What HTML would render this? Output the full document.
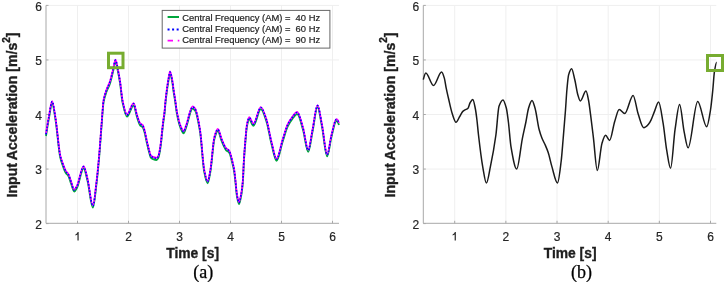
<!DOCTYPE html>
<html><head><meta charset="utf-8"><style>
html,body{margin:0;padding:0;background:#fff;}
svg{display:block;will-change:transform;filter:blur(0.3px);}
.grid{stroke:#efefef;stroke-width:1;}
.ax{stroke:#a8a8a8;stroke-width:1;fill:none;}
.tk{font-family:"Liberation Sans", sans-serif;font-size:12px;fill:#262626;stroke:#262626;stroke-width:0.2px;}
.lb{font-family:"Liberation Sans", sans-serif;font-size:13.85px;font-weight:bold;fill:#1e1e1e;stroke:#1e1e1e;stroke-width:0.35px;}
.lg{font-family:"Liberation Sans", sans-serif;font-size:9.4px;fill:#1e1e1e;stroke:#1e1e1e;stroke-width:0.2px;}
.cap{font-family:"Liberation Serif", serif;font-size:18px;fill:#000;stroke:#000;stroke-width:0.25px;}
</style></head><body>
<svg width="725" height="282" viewBox="0 0 725 282">
<rect width="725" height="282" fill="#fff"/>
<line x1="77.50" y1="5.4" x2="77.50" y2="223.3" class="grid"/>
<line x1="128.50" y1="5.4" x2="128.50" y2="223.3" class="grid"/>
<line x1="179.50" y1="5.4" x2="179.50" y2="223.3" class="grid"/>
<line x1="230.50" y1="5.4" x2="230.50" y2="223.3" class="grid"/>
<line x1="281.50" y1="5.4" x2="281.50" y2="223.3" class="grid"/>
<line x1="332.50" y1="5.4" x2="332.50" y2="223.3" class="grid"/>
<line x1="46.0" y1="169.05" x2="339.0" y2="169.05" class="grid"/>
<line x1="46.0" y1="114.50" x2="339.0" y2="114.50" class="grid"/>
<line x1="46.0" y1="59.95" x2="339.0" y2="59.95" class="grid"/>
<line x1="46.0" y1="5.40" x2="339.0" y2="5.40" class="grid"/>
<path d="M46.0,5.4 V223.3 H339.0" class="ax"/>
<line x1="77.50" y1="223.3" x2="77.50" y2="220.8" class="ax"/>
<path d="M78.65,231.90 V240.50 H77.45 V234.50 C76.90,235.00 76.20,235.30 75.40,235.50 V234.40 C76.50,234.00 77.20,233.20 77.60,231.90 Z" fill="#262626"/>
<line x1="128.50" y1="223.3" x2="128.50" y2="220.8" class="ax"/>
<text x="128.50" y="240.5" class="tk" text-anchor="middle">2</text>
<line x1="179.50" y1="223.3" x2="179.50" y2="220.8" class="ax"/>
<text x="179.50" y="240.5" class="tk" text-anchor="middle">3</text>
<line x1="230.50" y1="223.3" x2="230.50" y2="220.8" class="ax"/>
<text x="230.50" y="240.5" class="tk" text-anchor="middle">4</text>
<line x1="281.50" y1="223.3" x2="281.50" y2="220.8" class="ax"/>
<text x="281.50" y="240.5" class="tk" text-anchor="middle">5</text>
<line x1="332.50" y1="223.3" x2="332.50" y2="220.8" class="ax"/>
<text x="332.50" y="240.5" class="tk" text-anchor="middle">6</text>
<line x1="46.0" y1="223.60" x2="48.5" y2="223.60" class="ax"/>
<text x="42.0" y="228.80" class="tk" text-anchor="end">2</text>
<line x1="46.0" y1="169.05" x2="48.5" y2="169.05" class="ax"/>
<text x="42.0" y="174.25" class="tk" text-anchor="end">3</text>
<line x1="46.0" y1="114.50" x2="48.5" y2="114.50" class="ax"/>
<text x="42.0" y="119.70" class="tk" text-anchor="end">4</text>
<line x1="46.0" y1="59.95" x2="48.5" y2="59.95" class="ax"/>
<text x="42.0" y="65.15" class="tk" text-anchor="end">5</text>
<line x1="46.0" y1="5.40" x2="48.5" y2="5.40" class="ax"/>
<text x="42.0" y="10.60" class="tk" text-anchor="end">6</text>
<line x1="454.70" y1="5.4" x2="454.70" y2="223.3" class="grid"/>
<line x1="505.86" y1="5.4" x2="505.86" y2="223.3" class="grid"/>
<line x1="557.02" y1="5.4" x2="557.02" y2="223.3" class="grid"/>
<line x1="608.18" y1="5.4" x2="608.18" y2="223.3" class="grid"/>
<line x1="659.34" y1="5.4" x2="659.34" y2="223.3" class="grid"/>
<line x1="710.50" y1="5.4" x2="710.50" y2="223.3" class="grid"/>
<line x1="423.3" y1="169.05" x2="716.3" y2="169.05" class="grid"/>
<line x1="423.3" y1="114.50" x2="716.3" y2="114.50" class="grid"/>
<line x1="423.3" y1="59.95" x2="716.3" y2="59.95" class="grid"/>
<line x1="423.3" y1="5.40" x2="716.3" y2="5.40" class="grid"/>
<path d="M423.3,5.4 V223.3 H716.3" class="ax"/>
<line x1="454.70" y1="223.3" x2="454.70" y2="220.8" class="ax"/>
<path d="M455.85,231.90 V240.50 H454.65 V234.50 C454.10,235.00 453.40,235.30 452.60,235.50 V234.40 C453.70,234.00 454.40,233.20 454.80,231.90 Z" fill="#262626"/>
<line x1="505.86" y1="223.3" x2="505.86" y2="220.8" class="ax"/>
<text x="505.86" y="240.5" class="tk" text-anchor="middle">2</text>
<line x1="557.02" y1="223.3" x2="557.02" y2="220.8" class="ax"/>
<text x="557.02" y="240.5" class="tk" text-anchor="middle">3</text>
<line x1="608.18" y1="223.3" x2="608.18" y2="220.8" class="ax"/>
<text x="608.18" y="240.5" class="tk" text-anchor="middle">4</text>
<line x1="659.34" y1="223.3" x2="659.34" y2="220.8" class="ax"/>
<text x="659.34" y="240.5" class="tk" text-anchor="middle">5</text>
<line x1="710.50" y1="223.3" x2="710.50" y2="220.8" class="ax"/>
<text x="710.50" y="240.5" class="tk" text-anchor="middle">6</text>
<line x1="423.3" y1="223.60" x2="425.8" y2="223.60" class="ax"/>
<text x="419.3" y="228.80" class="tk" text-anchor="end">2</text>
<line x1="423.3" y1="169.05" x2="425.8" y2="169.05" class="ax"/>
<text x="419.3" y="174.25" class="tk" text-anchor="end">3</text>
<line x1="423.3" y1="114.50" x2="425.8" y2="114.50" class="ax"/>
<text x="419.3" y="119.70" class="tk" text-anchor="end">4</text>
<line x1="423.3" y1="59.95" x2="425.8" y2="59.95" class="ax"/>
<text x="419.3" y="65.15" class="tk" text-anchor="end">5</text>
<line x1="423.3" y1="5.40" x2="425.8" y2="5.40" class="ax"/>
<text x="419.3" y="10.60" class="tk" text-anchor="end">6</text>
<path d="M46.00,136.00 C47.00,129.27 48.00,123.11 49.00,117.80 C50.03,112.32 51.07,103.20 52.10,103.20 C53.23,103.20 54.37,113.02 55.50,119.80 C57.07,129.17 58.63,150.38 60.20,157.30 C60.97,160.69 61.73,162.61 62.50,164.80 C63.57,167.84 64.63,171.04 65.70,172.80 C66.63,174.34 67.57,174.68 68.50,176.30 C69.33,177.75 70.17,181.05 71.00,183.30 C72.07,186.18 73.13,191.60 74.20,191.60 C75.13,191.60 76.07,189.45 77.00,187.80 C79.20,183.90 81.40,168.30 83.60,168.30 C84.90,168.30 86.20,175.79 87.50,180.80 C89.30,187.73 91.10,207.60 92.90,207.60 C94.10,207.60 95.30,193.45 96.50,183.80 C97.40,176.57 98.30,167.02 99.20,156.80 C99.97,148.09 100.73,136.28 101.50,126.80 C102.20,118.15 102.90,106.03 103.60,102.10 C104.57,96.67 105.53,94.57 106.50,91.80 C107.63,88.55 108.77,87.04 109.90,83.70 C110.93,80.65 111.97,75.85 113.00,71.80 C113.83,68.53 114.67,61.80 115.50,61.80 C116.33,61.80 117.17,67.87 118.00,71.80 C118.70,75.10 119.40,79.13 120.10,83.70 C120.90,88.92 121.70,98.52 122.50,102.30 C124.00,109.39 125.50,116.70 127.00,116.70 C129.20,116.70 131.40,105.30 133.60,105.30 C134.70,105.30 135.80,113.42 136.90,116.70 C138.03,120.08 139.17,124.41 140.30,125.60 C141.13,126.47 141.97,126.34 142.80,127.30 C143.33,127.91 143.87,129.97 144.40,131.80 C145.13,134.32 145.87,138.61 146.60,141.80 C147.40,145.28 148.20,148.91 149.00,151.80 C149.60,153.97 150.20,156.91 150.80,157.60 C151.53,158.44 152.27,158.82 153.00,159.10 C154.17,159.55 155.33,160.00 156.50,160.00 C157.10,160.00 157.70,159.13 158.30,158.10 C158.80,157.24 159.30,154.45 159.80,151.80 C160.27,149.32 160.73,145.73 161.20,141.80 C161.53,139.00 161.87,134.84 162.20,131.80 C162.60,128.15 163.00,124.90 163.40,121.80 C163.77,118.95 164.13,117.00 164.50,113.80 C164.87,110.60 165.23,105.27 165.60,101.80 C166.00,98.01 166.40,94.78 166.80,91.80 C167.30,88.08 167.80,84.61 168.30,81.80 C168.87,78.62 169.43,73.60 170.00,73.60 C170.73,73.60 171.47,78.12 172.20,81.80 C172.67,84.14 173.13,88.68 173.60,91.80 C174.13,95.36 174.67,98.27 175.20,101.80 C175.77,105.55 176.33,110.86 176.90,113.80 C178.10,120.03 179.30,124.90 180.50,127.80 C181.53,130.29 182.57,133.30 183.60,133.30 C184.40,133.30 185.20,129.81 186.00,127.80 C188.20,122.26 190.40,108.60 192.60,108.60 C193.40,108.60 194.20,109.51 195.00,110.50 C196.67,112.56 198.33,121.73 200.00,131.60 C201.40,139.89 202.80,164.92 204.20,171.80 C205.33,177.37 206.47,183.30 207.60,183.30 C208.53,183.30 209.47,176.81 210.40,171.80 C211.73,164.64 213.07,143.76 214.40,139.00 C215.53,134.96 216.67,131.10 217.80,131.10 C219.13,131.10 220.47,138.42 221.80,141.50 C223.20,144.73 224.60,148.64 226.00,150.20 C227.07,151.39 228.13,151.35 229.20,152.70 C230.30,154.09 231.40,159.41 232.50,163.80 C233.07,166.06 233.63,168.34 234.20,171.80 C234.60,174.25 235.00,178.28 235.40,181.80 C235.93,186.49 236.47,193.95 237.00,196.80 C237.67,200.36 238.33,204.10 239.00,204.10 C239.67,204.10 240.33,200.14 241.00,196.80 C241.63,193.63 242.27,189.31 242.90,181.80 C243.23,177.85 243.57,167.21 243.90,161.80 C244.40,153.69 244.90,147.51 245.40,141.80 C245.90,136.09 246.40,129.33 246.90,126.80 C247.67,122.93 248.43,119.40 249.20,119.40 C250.60,119.40 252.00,125.80 253.40,125.80 C255.87,125.80 258.33,109.20 260.80,109.20 C262.70,109.20 264.60,116.07 266.50,121.70 C268.17,126.64 269.83,137.61 271.50,144.00 C273.17,150.39 274.83,160.80 276.50,160.80 C278.57,160.80 280.63,147.86 282.70,141.50 C284.33,136.48 285.97,130.06 287.60,126.60 C289.07,123.50 290.53,121.25 292.00,119.40 C293.73,117.21 295.47,114.10 297.20,114.10 C299.13,114.10 301.07,123.30 303.00,129.70 C304.73,135.43 306.47,151.80 308.20,151.80 C309.63,151.80 311.07,138.65 312.50,131.80 C314.17,123.84 315.83,107.20 317.50,107.20 C319.00,107.20 320.50,119.36 322.00,126.80 C323.70,135.23 325.40,156.40 327.10,156.40 C328.57,156.40 330.03,142.32 331.50,136.80 C333.10,130.77 334.70,121.20 336.30,121.20 C337.20,121.20 338.10,122.28 339.00,125.10" fill="none" stroke="#00a63c" stroke-width="1.8"/>
<path d="M46.00,133.80 C47.00,127.07 48.00,120.91 49.00,115.60 C50.03,110.12 51.07,101.00 52.10,101.00 C53.23,101.00 54.37,110.82 55.50,117.60 C57.07,126.97 58.63,148.18 60.20,155.10 C60.97,158.49 61.73,160.41 62.50,162.60 C63.57,165.64 64.63,168.84 65.70,170.60 C66.63,172.14 67.57,172.48 68.50,174.10 C69.33,175.55 70.17,178.85 71.00,181.10 C72.07,183.98 73.13,189.40 74.20,189.40 C75.13,189.40 76.07,187.25 77.00,185.60 C79.20,181.70 81.40,166.10 83.60,166.10 C84.90,166.10 86.20,173.59 87.50,178.60 C89.30,185.53 91.10,205.40 92.90,205.40 C94.10,205.40 95.30,191.25 96.50,181.60 C97.40,174.37 98.30,164.82 99.20,154.60 C99.97,145.89 100.73,134.08 101.50,124.60 C102.20,115.95 102.90,103.83 103.60,99.90 C104.57,94.47 105.53,92.37 106.50,89.60 C107.63,86.35 108.77,84.84 109.90,81.50 C110.93,78.45 111.97,73.65 113.00,69.60 C113.83,66.33 114.67,59.60 115.50,59.60 C116.33,59.60 117.17,65.67 118.00,69.60 C118.70,72.90 119.40,76.93 120.10,81.50 C120.90,86.72 121.70,96.32 122.50,100.10 C124.00,107.19 125.50,114.50 127.00,114.50 C129.20,114.50 131.40,103.10 133.60,103.10 C134.70,103.10 135.80,111.22 136.90,114.50 C138.03,117.88 139.17,122.21 140.30,123.40 C141.13,124.27 141.97,124.14 142.80,125.10 C143.33,125.71 143.87,127.77 144.40,129.60 C145.13,132.12 145.87,136.41 146.60,139.60 C147.40,143.08 148.20,146.71 149.00,149.60 C149.60,151.77 150.20,154.71 150.80,155.40 C151.53,156.24 152.27,156.62 153.00,156.90 C154.17,157.35 155.33,157.80 156.50,157.80 C157.10,157.80 157.70,156.93 158.30,155.90 C158.80,155.04 159.30,152.25 159.80,149.60 C160.27,147.12 160.73,143.53 161.20,139.60 C161.53,136.80 161.87,132.64 162.20,129.60 C162.60,125.95 163.00,122.70 163.40,119.60 C163.77,116.75 164.13,114.80 164.50,111.60 C164.87,108.40 165.23,103.07 165.60,99.60 C166.00,95.81 166.40,92.58 166.80,89.60 C167.30,85.88 167.80,82.41 168.30,79.60 C168.87,76.42 169.43,71.40 170.00,71.40 C170.73,71.40 171.47,75.92 172.20,79.60 C172.67,81.94 173.13,86.48 173.60,89.60 C174.13,93.16 174.67,96.07 175.20,99.60 C175.77,103.35 176.33,108.66 176.90,111.60 C178.10,117.83 179.30,122.70 180.50,125.60 C181.53,128.09 182.57,131.10 183.60,131.10 C184.40,131.10 185.20,127.61 186.00,125.60 C188.20,120.06 190.40,106.40 192.60,106.40 C193.40,106.40 194.20,107.31 195.00,108.30 C196.67,110.36 198.33,119.53 200.00,129.40 C201.40,137.69 202.80,162.72 204.20,169.60 C205.33,175.17 206.47,181.10 207.60,181.10 C208.53,181.10 209.47,174.61 210.40,169.60 C211.73,162.44 213.07,141.56 214.40,136.80 C215.53,132.76 216.67,128.90 217.80,128.90 C219.13,128.90 220.47,136.22 221.80,139.30 C223.20,142.53 224.60,146.44 226.00,148.00 C227.07,149.19 228.13,149.15 229.20,150.50 C230.30,151.89 231.40,157.21 232.50,161.60 C233.07,163.86 233.63,166.14 234.20,169.60 C234.60,172.05 235.00,176.08 235.40,179.60 C235.93,184.29 236.47,191.75 237.00,194.60 C237.67,198.16 238.33,201.90 239.00,201.90 C239.67,201.90 240.33,197.94 241.00,194.60 C241.63,191.43 242.27,187.11 242.90,179.60 C243.23,175.65 243.57,165.01 243.90,159.60 C244.40,151.49 244.90,145.31 245.40,139.60 C245.90,133.89 246.40,127.13 246.90,124.60 C247.67,120.73 248.43,117.20 249.20,117.20 C250.60,117.20 252.00,123.60 253.40,123.60 C255.87,123.60 258.33,107.00 260.80,107.00 C262.70,107.00 264.60,113.87 266.50,119.50 C268.17,124.44 269.83,135.41 271.50,141.80 C273.17,148.19 274.83,158.60 276.50,158.60 C278.57,158.60 280.63,145.66 282.70,139.30 C284.33,134.28 285.97,127.86 287.60,124.40 C289.07,121.30 290.53,119.05 292.00,117.20 C293.73,115.01 295.47,111.90 297.20,111.90 C299.13,111.90 301.07,121.10 303.00,127.50 C304.73,133.23 306.47,149.60 308.20,149.60 C309.63,149.60 311.07,136.45 312.50,129.60 C314.17,121.64 315.83,105.00 317.50,105.00 C319.00,105.00 320.50,117.16 322.00,124.60 C323.70,133.03 325.40,154.20 327.10,154.20 C328.57,154.20 330.03,140.12 331.50,134.60 C333.10,128.57 334.70,119.00 336.30,119.00 C337.20,119.00 338.10,120.08 339.00,122.90" fill="none" stroke="#ff00ff" stroke-width="1.7"/>
<path d="M46.00,134.40 C47.00,127.67 48.00,121.51 49.00,116.20 C50.03,110.72 51.07,101.60 52.10,101.60 C53.23,101.60 54.37,111.42 55.50,118.20 C57.07,127.57 58.63,148.78 60.20,155.70 C60.97,159.09 61.73,161.01 62.50,163.20 C63.57,166.24 64.63,169.44 65.70,171.20 C66.63,172.74 67.57,173.08 68.50,174.70 C69.33,176.15 70.17,179.45 71.00,181.70 C72.07,184.58 73.13,190.00 74.20,190.00 C75.13,190.00 76.07,187.85 77.00,186.20 C79.20,182.30 81.40,166.70 83.60,166.70 C84.90,166.70 86.20,174.19 87.50,179.20 C89.30,186.13 91.10,206.00 92.90,206.00 C94.10,206.00 95.30,191.85 96.50,182.20 C97.40,174.97 98.30,165.42 99.20,155.20 C99.97,146.49 100.73,134.68 101.50,125.20 C102.20,116.55 102.90,104.43 103.60,100.50 C104.57,95.07 105.53,92.97 106.50,90.20 C107.63,86.95 108.77,85.44 109.90,82.10 C110.93,79.05 111.97,74.25 113.00,70.20 C113.83,66.93 114.67,60.20 115.50,60.20 C116.33,60.20 117.17,66.27 118.00,70.20 C118.70,73.50 119.40,77.53 120.10,82.10 C120.90,87.32 121.70,96.92 122.50,100.70 C124.00,107.79 125.50,115.10 127.00,115.10 C129.20,115.10 131.40,103.70 133.60,103.70 C134.70,103.70 135.80,111.82 136.90,115.10 C138.03,118.48 139.17,122.81 140.30,124.00 C141.13,124.87 141.97,124.74 142.80,125.70 C143.33,126.31 143.87,128.37 144.40,130.20 C145.13,132.72 145.87,137.01 146.60,140.20 C147.40,143.68 148.20,147.31 149.00,150.20 C149.60,152.37 150.20,155.31 150.80,156.00 C151.53,156.84 152.27,157.22 153.00,157.50 C154.17,157.95 155.33,158.40 156.50,158.40 C157.10,158.40 157.70,157.53 158.30,156.50 C158.80,155.64 159.30,152.85 159.80,150.20 C160.27,147.72 160.73,144.13 161.20,140.20 C161.53,137.40 161.87,133.24 162.20,130.20 C162.60,126.55 163.00,123.30 163.40,120.20 C163.77,117.35 164.13,115.40 164.50,112.20 C164.87,109.00 165.23,103.67 165.60,100.20 C166.00,96.41 166.40,93.18 166.80,90.20 C167.30,86.48 167.80,83.01 168.30,80.20 C168.87,77.02 169.43,72.00 170.00,72.00 C170.73,72.00 171.47,76.52 172.20,80.20 C172.67,82.54 173.13,87.08 173.60,90.20 C174.13,93.76 174.67,96.67 175.20,100.20 C175.77,103.95 176.33,109.26 176.90,112.20 C178.10,118.43 179.30,123.30 180.50,126.20 C181.53,128.69 182.57,131.70 183.60,131.70 C184.40,131.70 185.20,128.21 186.00,126.20 C188.20,120.66 190.40,107.00 192.60,107.00 C193.40,107.00 194.20,107.91 195.00,108.90 C196.67,110.96 198.33,120.13 200.00,130.00 C201.40,138.29 202.80,163.32 204.20,170.20 C205.33,175.77 206.47,181.70 207.60,181.70 C208.53,181.70 209.47,175.21 210.40,170.20 C211.73,163.04 213.07,142.16 214.40,137.40 C215.53,133.36 216.67,129.50 217.80,129.50 C219.13,129.50 220.47,136.82 221.80,139.90 C223.20,143.13 224.60,147.04 226.00,148.60 C227.07,149.79 228.13,149.75 229.20,151.10 C230.30,152.49 231.40,157.81 232.50,162.20 C233.07,164.46 233.63,166.74 234.20,170.20 C234.60,172.65 235.00,176.68 235.40,180.20 C235.93,184.89 236.47,192.35 237.00,195.20 C237.67,198.76 238.33,202.50 239.00,202.50 C239.67,202.50 240.33,198.54 241.00,195.20 C241.63,192.03 242.27,187.71 242.90,180.20 C243.23,176.25 243.57,165.61 243.90,160.20 C244.40,152.09 244.90,145.91 245.40,140.20 C245.90,134.49 246.40,127.73 246.90,125.20 C247.67,121.33 248.43,117.80 249.20,117.80 C250.60,117.80 252.00,124.20 253.40,124.20 C255.87,124.20 258.33,107.60 260.80,107.60 C262.70,107.60 264.60,114.47 266.50,120.10 C268.17,125.04 269.83,136.01 271.50,142.40 C273.17,148.79 274.83,159.20 276.50,159.20 C278.57,159.20 280.63,146.26 282.70,139.90 C284.33,134.88 285.97,128.46 287.60,125.00 C289.07,121.90 290.53,119.65 292.00,117.80 C293.73,115.61 295.47,112.50 297.20,112.50 C299.13,112.50 301.07,121.70 303.00,128.10 C304.73,133.83 306.47,150.20 308.20,150.20 C309.63,150.20 311.07,137.05 312.50,130.20 C314.17,122.24 315.83,105.60 317.50,105.60 C319.00,105.60 320.50,117.76 322.00,125.20 C323.70,133.63 325.40,154.80 327.10,154.80 C328.57,154.80 330.03,140.72 331.50,135.20 C333.10,129.17 334.70,119.60 336.30,119.60 C337.20,119.60 338.10,120.68 339.00,123.50" fill="none" stroke="#0000ff" stroke-width="1.7" stroke-dasharray="1.5 1.7"/>
<path d="M423.30,79.60 C424.13,76.53 424.97,73.00 425.80,73.00 C428.37,73.00 430.93,85.50 433.50,85.50 C436.20,85.50 438.90,72.00 441.60,72.00 C442.53,72.00 443.47,75.31 444.40,78.40 C445.00,80.38 445.60,85.15 446.20,88.10 C446.93,91.71 447.67,94.85 448.40,98.00 C449.67,103.44 450.93,109.79 452.20,113.50 C453.47,117.21 454.73,122.20 456.00,122.20 C457.23,122.20 458.47,118.49 459.70,116.50 C460.67,114.94 461.63,112.55 462.60,111.60 C463.40,110.81 464.20,110.39 465.00,109.90 C466.00,109.29 467.00,109.23 468.00,108.30 C468.67,107.68 469.33,104.16 470.00,103.00 C470.93,101.38 471.87,99.50 472.80,99.50 C473.67,99.50 474.53,104.69 475.40,109.00 C475.93,111.65 476.47,116.10 477.00,120.50 C477.50,124.63 478.00,130.68 478.50,135.00 C479.90,147.08 481.30,158.83 482.70,166.60 C483.93,173.44 485.17,183.00 486.40,183.00 C487.73,183.00 489.07,172.92 490.40,166.60 C492.23,157.90 494.07,148.29 495.90,135.00 C496.93,127.51 497.97,109.21 499.00,106.30 C500.33,102.55 501.67,99.90 503.00,99.90 C504.10,99.90 505.20,103.91 506.30,108.00 C507.00,110.60 507.70,116.54 508.40,122.00 C509.27,128.76 510.13,141.74 511.00,146.80 C512.90,157.89 514.80,169.00 516.70,169.00 C518.60,169.00 520.50,147.74 522.40,138.30 C523.57,132.51 524.73,127.74 525.90,122.00 C526.80,117.57 527.70,110.80 528.60,108.00 C529.73,104.47 530.87,100.60 532.00,100.60 C533.00,100.60 534.00,104.72 535.00,108.00 C536.40,112.59 537.80,124.53 539.20,129.80 C540.13,133.31 541.07,135.98 542.00,138.30 C543.13,141.12 544.27,142.80 545.40,145.40 C546.33,147.54 547.27,149.68 548.20,152.50 C549.43,156.22 550.67,162.48 551.90,166.60 C553.77,172.84 555.63,183.00 557.50,183.00 C558.73,183.00 559.97,170.93 561.20,161.00 C561.87,155.63 562.53,146.16 563.20,138.30 C563.97,129.26 564.73,120.25 565.50,110.00 C565.97,103.76 566.43,94.93 566.90,89.80 C567.47,83.57 568.03,76.91 568.60,74.90 C569.60,71.35 570.60,68.70 571.60,68.70 C572.67,68.70 573.73,75.43 574.80,79.80 C575.80,83.89 576.80,91.42 577.80,94.70 C578.63,97.43 579.47,100.90 580.30,100.90 C582.20,100.90 584.10,91.00 586.00,91.00 C586.83,91.00 587.67,95.98 588.50,100.00 C589.20,103.38 589.90,109.62 590.60,114.90 C591.53,121.94 592.47,129.89 593.40,137.60 C594.70,148.34 596.00,170.50 597.30,170.50 C598.87,170.50 600.43,148.09 602.00,143.20 C603.20,139.45 604.40,135.30 605.60,135.30 C606.93,135.30 608.27,140.40 609.60,140.40 C611.30,140.40 613.00,126.73 614.70,121.50 C616.20,116.89 617.70,109.60 619.20,109.60 C621.03,109.60 622.87,113.50 624.70,113.50 C627.50,113.50 630.30,95.40 633.10,95.40 C634.80,95.40 636.50,109.07 638.20,114.10 C640.03,119.53 641.87,127.70 643.70,127.70 C645.40,127.70 647.10,125.68 648.80,123.80 C649.53,122.99 650.27,121.55 651.00,120.10 C652.20,117.72 653.40,113.96 654.60,111.10 C655.93,107.92 657.27,102.00 658.60,102.00 C660.10,102.00 661.60,114.36 663.10,123.10 C664.30,130.09 665.50,143.29 666.70,150.20 C668.00,157.69 669.30,168.30 670.60,168.30 C672.10,168.30 673.60,139.29 675.10,129.20 C676.60,119.11 678.10,104.50 679.60,104.50 C681.13,104.50 682.67,124.87 684.20,132.20 C685.50,138.41 686.80,147.80 688.10,147.80 C691.30,147.80 694.50,101.40 697.70,101.40 C700.70,101.40 703.70,126.70 706.70,126.70 C707.97,126.70 709.23,117.60 710.50,110.00 C711.27,105.40 712.03,97.60 712.80,90.00 C713.33,84.71 713.87,75.27 714.40,71.90 C715.17,67.06 715.93,62.23 716.70,62.20" fill="none" stroke="#1a1a1a" stroke-width="1.5"/>
<rect x="108.5" y="53.2" width="14.5" height="14.5" fill="none" stroke="#77ac30" stroke-width="3"/>
<rect x="707.5" y="55.5" width="15" height="15" fill="none" stroke="#77ac30" stroke-width="3"/>
<!-- legend -->
<rect x="162.2" y="10.4" width="167.7" height="37.7" fill="#fff" stroke="#666" stroke-width="1"/>
<line x1="167.6" y1="17" x2="179" y2="17" stroke="#00a63c" stroke-width="2"/>
<line x1="167.55" y1="29.4" x2="179" y2="29.4" stroke="#0000ff" stroke-width="2" stroke-dasharray="2 2.55"/>
<line x1="167.6" y1="40.6" x2="179.4" y2="40.6" stroke="#ff00ff" stroke-width="1.8" stroke-dasharray="5.4 4.75 1.6 3"/>
<text x="182.3" y="21" class="lg">Central Frequency (AM) =&#160; 40 Hz</text>
<text x="182.3" y="32.2" class="lg">Central Frequency (AM) =&#160; 60 Hz</text>
<text x="182.3" y="43.4" class="lg">Central Frequency (AM) =&#160; 90 Hz</text>
<text transform="translate(17.4,197.5) rotate(-90)" class="lb" style="font-size:14.1px">Input <tspan dx="-0.6">Acceleration</tspan> [m/s<tspan dy="-7.3" font-size="10">2</tspan><tspan dy="7.3">]</tspan></text>
<text transform="translate(394.7,197.5) rotate(-90)" class="lb" style="font-size:14.1px">Input <tspan dx="-0.6">Acceleration</tspan> [m/s<tspan dy="-7.3" font-size="10">2</tspan><tspan dy="7.3">]</tspan></text>
<text x="192.6" y="257.9" class="lb" text-anchor="middle">Time [s]</text>
<text x="570.1" y="257.9" class="lb" text-anchor="middle">Time [s]</text>
<text x="203.2" y="278" class="cap" text-anchor="middle">(a)</text>
<text x="581.6" y="278" class="cap" text-anchor="middle">(b)</text>
</svg>
</body></html>
